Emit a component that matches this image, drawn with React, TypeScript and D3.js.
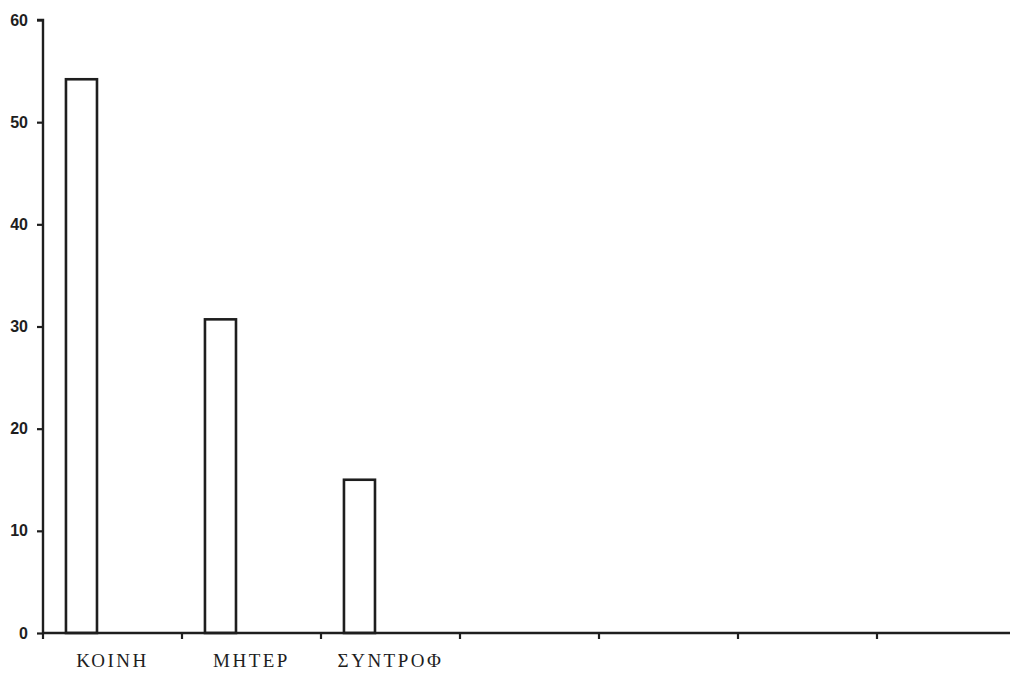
import React, { useEffect, useRef } from 'react';
import * as d3 from 'd3';

// slots along the x axis; only the first three carry a label
const categories = ['ΚΟΙΝΗ', 'ΜΗΤΕΡ', 'ΣΥΝΤΡΟΦ', 'c4', 'c5', 'c6', 'c7'];
const categoryLabels = ['ΚΟΙΝΗ', 'ΜΗΤΕΡ', 'ΣΥΝΤΡΟΦ', '', '', '', ''];
const seriesNames = ['s1', 's2', 's3'];
const series1 = [54.2, 30.7, 15.0, 0, 0, 0, 0];
const series2 = [0, 0, 0, 0, 0, 0, 0];
const series3 = [0, 0, 0, 0, 0, 0, 0];
const yTicks = [0, 10, 20, 30, 40, 50, 60];

const W = 1010;
const H = 674;

const App: React.FC = () => {
  const svgRef = useRef<SVGSVGElement>(null);

  useEffect(() => {
    if (!svgRef.current) return;
    const svg = d3.select(svgRef.current);
    svg.selectAll('*').remove();

    const ink = '#1e1e1e';
    const x0 = 43;
    const x1 = 1016;
    const yBase = 633;
    const yTop = 20;

    const x = d3.scaleBand<string>().domain(categories).range([x0, x1]).padding(0);
    const xInner = d3
      .scaleBand<string>()
      .domain(seriesNames)
      .range([0, x.bandwidth()])
      .paddingOuter(0.74)
      .paddingInner(0);
    const y = d3.scaleLinear().domain([0, 60]).range([yBase, yTop]);

    const allSeries = [series1, series2, series3];
    const g = svg.append('g');

    // bars (only non-zero ones are visible)
    allSeries.forEach((vals, si) => {
      g.selectAll(`.bar${si}`)
        .data(vals.map((v, i) => ({ v, c: categories[i] })).filter((d) => d.v > 0))
        .enter()
        .append('rect')
        .attr('x', (d) => (x(d.c) ?? 0) + (xInner(seriesNames[si]) ?? 0))
        .attr('y', (d) => y(d.v))
        .attr('width', xInner.bandwidth())
        .attr('height', (d) => y(0) - y(d.v))
        .style('fill', 'white')
        .style('stroke', ink)
        .style('stroke-width', 2.6);
    });

    // y axis
    const yAxis = d3
      .axisLeft(y)
      .tickValues(yTicks)
      .tickSize(6)
      .tickPadding(9)
      .tickFormat((d) => String(d));
    const ya = svg.append('g').attr('transform', `translate(${x0},0)`).call(yAxis);
    ya.select('.domain').attr('d', `M-6,${yTop}H0V${yBase}`).style('stroke', ink).style('stroke-width', 2.4);
    ya.selectAll('.tick line').style('stroke', ink).style('stroke-width', 2.2);
    ya.selectAll('.tick text')
      .style('font-family', '"Liberation Sans", Arial, sans-serif')
      .style('font-weight', 'bold')
      .style('font-size', '16px')
      .style('fill', ink);

    // x axis
    const xAxis = d3
      .axisBottom(x)
      .tickSize(0)
      .tickPadding(21)
      .tickFormat((_, i) => categoryLabels[i]);
    const xa = svg.append('g').attr('transform', `translate(0,${yBase})`).call(xAxis);
    xa.select('.domain').attr('d', `M${x0},0H${x1}`).style('stroke', ink).style('stroke-width', 2.4);
    xa.selectAll('.tick line').remove();
    xa.selectAll('.tick text')
      .style('font-family', '"Liberation Serif", "Times New Roman", serif')
      .style('font-size', '19px')
      .style('letter-spacing', '2.5px')
      .style('fill', ink);

    // small tick marks between the slots
    xa.selectAll('.sep')
      .data(categories)
      .enter()
      .append('line')
      .attr('x1', (d) => x(d) ?? 0)
      .attr('x2', (d) => x(d) ?? 0)
      .attr('y1', 0)
      .attr('y2', 6)
      .style('stroke', ink)
      .style('stroke-width', 2.2);
  }, []);

  return (
    <svg
      ref={svgRef}
      width={W}
      height={H}
      style={{ position: 'absolute', left: 0, top: 0, background: 'white' }}
    />
  );
};

export default App;
